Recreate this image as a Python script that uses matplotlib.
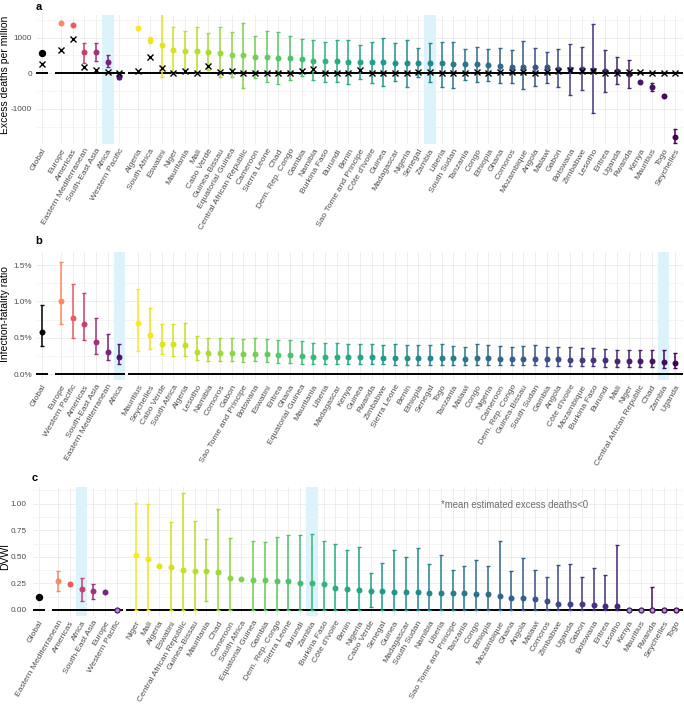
import numpy as np
import matplotlib
matplotlib.use("Agg")
import matplotlib.pyplot as plt

plt.rcParams['font.family'] = ['Liberation Sans', 'DejaVu Sans']

nan = np.nan

# ---------------- panel a: excess deaths per million ----------------
a_global = 580
a_global_rep = 250
a_regions = ["Europe", "Americas", "Eastern Mediterranean", "South-East Asia", "Africa", "Western Pacific"]
a_reg_mean = [1420, 1345, 607, 589, 327, -112]
a_reg_lo = [nan, nan, 280, 355, 187, -150]
a_reg_hi = [nan, nan, 841, 860, 505, -75]
a_reg_rep = [654, 953, 187, 93, 47, 19]
a_countries = ["Algeria", "South Africa", "Eswatini", "Niger", "Mauritania", "Mali", "Cabo Verde",
               "Guinea-Bissau", "Equatorial Guinea", "Central African Republic", "Cameroon",
               "Sierra Leone", "Chad", "Dem. Rep. Congo", "Gambia", "Namibia", "Burkina Faso",
               "Burundi", "Benin", "Sao Tome and Principe", "Côte d'Ivoire", "Guinea", "Madagascar",
               "Nigeria", "Senegal", "Zambia", "Liberia", "South Sudan", "Tanzania", "Congo",
               "Ethiopia", "Ghana", "Comoros", "Mozambique", "Angola", "Malawi", "Gabon", "Botswana",
               "Zimbabwe", "Lesotho", "Eritrea", "Uganda", "Rwanda", "Kenya", "Mauritius", "Togo",
               "Seychelles"]
a_cty_mean = [1271, 935, 785, 654, 636, 626, 589, 561, 505, 500, 467, 449, 421, 421, 402, 346, 346,
              346, 327, 327, 308, 308, 299, 299, 299, 299, 280, 262, 252, 252, 234, 206, 187, 187,
              168, 168, 121, 112, 112, 93, 75, 65, -19, -234, -374, -636, -1776]
a_cty_lo = [nan, 841, -93, 0, 47, 0, 93, -112, -112, -420, -140, -234, -300, -187, -75, -187, -234,
            -234, -300, -159, -262, -355, -215, -374, -112, -234, -374, -402, -187, -234, -206, -280,
            -280, -449, -355, -262, -393, -607, -467, -1121, -514, -300, -402, nan, -486, nan, -1963]
a_cty_hi = [nan, 1009, 1700, 1308, 1187, 1308, 1121, 1290, 1168, 1420, 1056, 1187, 1150, 1056, 953,
            935, 888, 935, 935, 794, 888, 981, 860, 935, 720, 841, 888, 888, 673, 748, 673, 701, 654,
            916, 701, 607, 673, 813, 729, 1383, 654, 449, 374, nan, -262, nan, -1551]
a_cty_rep = [65, 467, 159, 19, 65, 19, 206, 37, 56, 5, 20, 10, 10, 15, 75, 112, 15, 5, 10, 93, 15,
             15, 20, 10, 40, 40, 20, 10, 5, 30, 20, 30, 40, 30, 20, 40, 60, 80, 60, 70, 10, 20, 30,
             30, 20, 15, 20]

# ---------------- panel b: infection-fatality ratio (%) ----------------
b_global = [0.584, 0.384, 0.945]
b_regions = ["Europe", "Western Pacific", "Americas", "South-East Asia", "Eastern Mediterranean", "Africa"]
b_reg_mean = [1.005, 0.767, 0.694, 0.447, 0.31, 0.233]
b_reg_lo = [0.685, 0.502, 0.466, 0.283, 0.192, 0.142]
b_reg_hi = [1.548, 1.242, 1.114, 0.772, 0.548, 0.411]
b_countries = ["Mauritius", "Seychelles", "Cabo Verde", "South Africa", "Algeria", "Lesotho", "Namibia",
               "Comoros", "Gabon", "Sao Tome and Principe", "Botswana", "Eswatini", "Eritrea", "Ghana",
               "Equatorial Guinea", "Mauritania", "Liberia", "Madagascar", "Kenya", "Guinea", "Rwanda",
               "Zimbabwe", "Sierra Leone", "Benin", "Ethiopia", "Senegal", "Togo", "Tanzania", "Malawi",
               "Congo", "Nigeria", "Cameroon", "Dem. Rep. Congo", "Guinea-Bissau", "South Sudan",
               "Gambia", "Angola", "Côte d'Ivoire", "Mozambique", "Burkina Faso", "Burundi", "Mali",
               "Niger", "Central African Republic", "Chad", "Zambia", "Uganda"]
b_cty_mean = [0.699, 0.539, 0.42, 0.411, 0.406, 0.301, 0.292, 0.288, 0.288, 0.279, 0.279, 0.274,
              0.265, 0.26, 0.247, 0.237, 0.237, 0.237, 0.237, 0.233, 0.233, 0.228, 0.228, 0.228,
              0.224, 0.224, 0.219, 0.219, 0.215, 0.224, 0.219, 0.215, 0.215, 0.215, 0.215, 0.205,
              0.205, 0.2, 0.2, 0.2, 0.192, 0.187, 0.187, 0.183, 0.178, 0.169, 0.151]
b_cty_lo = [0.32, 0.352, 0.274, 0.256, 0.247, 0.192, 0.183, 0.178, 0.178, 0.169, 0.178, 0.164,
            0.16, 0.16, 0.146, 0.142, 0.142, 0.142, 0.142, 0.137, 0.137, 0.137, 0.132, 0.132,
            0.132, 0.132, 0.123, 0.132, 0.132, 0.132, 0.132, 0.132, 0.132, 0.128, 0.128, 0.119,
            0.119, 0.119, 0.114, 0.114, 0.105, 0.105, 0.1, 0.1, 0.1, 0.091, 0.082]
b_cty_hi = [1.174, 0.909, 0.694, 0.694, 0.703, 0.521, 0.502, 0.502, 0.502, 0.484, 0.502, 0.484,
            0.466, 0.466, 0.457, 0.429, 0.434, 0.434, 0.42, 0.416, 0.42, 0.406, 0.42, 0.402,
            0.406, 0.402, 0.416, 0.388, 0.374, 0.416, 0.397, 0.388, 0.374, 0.388, 0.397, 0.374,
            0.374, 0.374, 0.361, 0.361, 0.347, 0.338, 0.338, 0.338, 0.329, 0.329, 0.292]

# ---------------- panel c: DVWI ----------------
c_global = 0.126
c_regions = ["Eastern Mediterranean", "Americas", "Africa", "South-East Asia", "Europe", "Western Pacific"]
c_reg_mean = [0.274, 0.242, 0.195, 0.176, 0.17, nan]
c_reg_lo = [0.179, nan, 0.088, 0.104, nan, nan]
c_reg_hi = [0.362, nan, 0.296, 0.248, nan, nan]
c_countries = ["Niger", "Mali", "Algeria", "Eswatini", "Central African Republic", "Guinea-Bissau",
               "Mauritania", "Chad", "Cameroon", "South Africa", "Equatorial Guinea", "Gambia",
               "Dem. Rep. Congo", "Sierra Leone", "Burundi", "Zambia", "Burkina Faso", "Côte d'Ivoire",
               "Benin", "Nigeria", "Cabo Verde", "Senegal", "Guinea", "Madagascar", "South Sudan",
               "Namibia", "Liberia", "Sao Tome and Principe", "Tanzania", "Congo", "Ethiopia",
               "Mozambique", "Ghana", "Angola", "Malawi", "Comoros", "Zimbabwe", "Uganda", "Gabon",
               "Botswana", "Eritrea", "Lesotho", "Kenya", "Mauritius", "Rwanda", "Seychelles", "Togo"]
c_cty_mean = [0.513, 0.478, 0.415, 0.4, 0.377, 0.368, 0.362, 0.355, 0.296, 0.292, 0.283, 0.28, 0.274,
              0.27, 0.258, 0.252, 0.245, 0.204, 0.195, 0.189, 0.179, 0.179, 0.173, 0.167, 0.167,
              0.164, 0.157, 0.157, 0.157, 0.154, 0.148, 0.129, 0.116, 0.113, 0.1, 0.085, 0.06, 0.06,
              0.057, 0.047, 0.041, 0.041, nan, nan, nan, nan, nan]
c_cty_lo = [0, 0, nan, 0, 0, 0, 0.088, 0, 0, nan, 0, 0, 0, 0, 0, 0, 0, 0, 0, 0, 0.025, 0, 0, 0, 0,
            0, 0, 0, 0, 0, 0, 0, 0, 0, 0, 0, 0, 0, 0, 0, 0, 0, nan, nan, 0, nan, nan]
c_cty_hi = [1.006, 1.0, nan, 0.824, 1.1, 0.84, 0.667, 0.953, 0.673, nan, 0.651, 0.642, 0.686, 0.708,
            0.708, 0.717, 0.648, 0.62, 0.563, 0.594, 0.346, 0.44, 0.563, 0.497, 0.579, 0.434, 0.513,
            0.377, 0.415, 0.472, 0.409, 0.645, 0.368, 0.487, 0.374, 0.308, 0.425, 0.431, 0.314,
            0.393, 0.333, 0.613, nan, nan, 0.214, nan, nan]

highlight = ["Africa", "Zambia"]

W, H = 684, 706
fig = plt.figure(figsize=(W / 100, H / 100), dpi=100)

GREY = '#4D4D4D'
GRID = '#EBEBEB'
xg = 0.0
xr = 1.65 + np.arange(6)
xc = 8.28 + np.arange(47)
reg_cols = plt.cm.magma(np.linspace(0.75, 0.25, 6))
cty_cols = plt.cm.viridis(np.linspace(1, 0, 47))


def px_rect(left, right, top, bottom):
    return [left / W, 1 - bottom / H, (right - left) / W, (bottom - top) / H]


def point(ax, x, m, lo, hi, col, hollow=False):
    y = 0 if np.isnan(m) else m
    if not np.isnan(lo):
        ax.errorbar([x], [y], yerr=[[y - lo], [hi - y]], fmt='none', ecolor=col,
                    elinewidth=1.1, capsize=1.1, capthick=1.0, zorder=4)
    if hollow or np.isnan(m):
        ax.plot([x], [0], 'o', ms=3.6, mfc='#A99CC0', mec=col, mew=0.9, zorder=5)
    else:
        ax.plot([x], [y], 'o', ms=4.3, color=col, mec='none', zorder=5)


def panel(rect, xlim, ylim, major, minor, ylabs, names_r, names_c, ypad):
    ax = fig.add_axes(rect)
    ax.set_xlim(*xlim)
    ax.set_ylim(*ylim)
    for s in ax.spines.values():
        s.set_visible(False)
    ax.set_yticks(major)
    ax.set_yticklabels(ylabs)
    ax.set_yticks(minor, minor=True)
    ax.set_xticks(np.concatenate([[xg], xr, xc]))
    ax.set_xticklabels(["Global"] + list(names_r) + list(names_c), rotation=60, ha='right',
                       va='top', rotation_mode='anchor')
    ax.tick_params(length=0, which='both', labelsize=6.1, labelcolor=GREY)
    ax.tick_params(axis='y', labelsize=5.9, pad=ypad)
    ax.tick_params(axis='x', pad=2.5)
    ax.grid(which='major', color=GRID, lw=0.6, zorder=0)
    ax.grid(which='minor', axis='y', color='#F2F2F2', lw=0.5, zorder=0)
    ax.set_axisbelow(True)
    for i, n in enumerate(names_r):
        if n in highlight:
            ax.axvspan(xr[i] - 0.5, xr[i] + 0.5, color='#DDF3FC', zorder=1, lw=0)
    for i, n in enumerate(names_c):
        if n in highlight:
            ax.axvspan(xc[i] - 0.5, xc[i] + 0.5, color='#DDF3FC', zorder=1, lw=0)
    for a, b in [(-0.6, 0.55), (1.1, 7.15), (7.42, 56)]:
        ax.plot([a, b], [0, 0], color='black', lw=1.4, zorder=3, solid_capstyle='butt')
    return ax


# panel a
axa = panel(px_rect(35.9, 683, 15, 144), (-0.5, 54.95), (-1983, 1635),
            [-1000, 0, 1000], [-1500, -500, 500, 1500], ['-1000', '0', '1000'],
            a_regions, a_countries, 2.8)
axa.plot([xg], [a_global], 'o', ms=4.3, color='black', zorder=5)
axa.plot([xg], [a_global_rep], 'x', ms=4.5, mew=1.0, color='black', zorder=6)
for i in range(6):
    point(axa, xr[i], a_reg_mean[i], a_reg_lo[i], a_reg_hi[i], reg_cols[i])
    axa.plot([xr[i]], [a_reg_rep[i]], 'x', ms=4.5, mew=1.0, color='black', zorder=6)
for i in range(47):
    point(axa, xc[i], a_cty_mean[i], a_cty_lo[i], a_cty_hi[i], cty_cols[i])
    axa.plot([xc[i]], [a_cty_rep[i]], 'x', ms=4.5, mew=1.0, color='black', zorder=6)

# panel b
axb = panel(px_rect(35.9, 683, 252, 380), (-0.5, 54.95), (-0.08, 1.68),
            [0, 0.5, 1.0, 1.5], [0.25, 0.75, 1.25], ['0.0%', '0.5%', '1.0%', '1.5%'],
            b_regions, b_countries, 2.8)
point(axb, xg, b_global[0], b_global[1], b_global[2], 'black')
for i in range(6):
    point(axb, xr[i], b_reg_mean[i], b_reg_lo[i], b_reg_hi[i], reg_cols[i])
for i in range(47):
    point(axb, xc[i], b_cty_mean[i], b_cty_lo[i], b_cty_hi[i], cty_cols[i])

# panel c
axc = panel(px_rect(32.8, 683, 487, 616), (-0.5, 54.9), (-0.057, 1.157),
            [0, 0.25, 0.5, 0.75, 1.0], [0.125, 0.375, 0.625, 0.875, 1.125],
            ['0.00', '0.25', '0.50', '0.75', '1.00'], c_regions, c_countries, 4.5)
axc.plot([xg], [c_global], 'o', ms=4.3, color='black', zorder=5)
for i in range(6):
    point(axc, xr[i], c_reg_mean[i], c_reg_lo[i], c_reg_hi[i], reg_cols[i])
for i in range(47):
    point(axc, xc[i], c_cty_mean[i], c_cty_lo[i], c_cty_hi[i], cty_cols[i])

fig.text(441 / W, 1 - 505 / H, "*mean estimated excess deaths<0", fontsize=6.9, color='#6E6E6E',
         va='center', ha='left')

# axis titles and panel tags
fig.text(5.5 / W, 1 - 75 / H, "Excess deaths per million", rotation=90, va='center', ha='center',
         fontsize=7.5, color='black')
fig.text(5.5 / W, 1 - 314 / H, "Infection-fatality ratio", rotation=90, va='center', ha='center',
         fontsize=7.5, color='black')
fig.text(5 / W, 1 - 556 / H, "DVWI", rotation=90, va='center', ha='center',
         fontsize=7.5, color='black')
for t, x, y in [('a', 36, 2), ('b', 35, 236), ('c', 32, 473)]:
    fig.text(x / W, 1 - y / H, t, fontsize=8, fontweight='bold', va='top', ha='left')

fig.savefig("out.png", dpi=100)
